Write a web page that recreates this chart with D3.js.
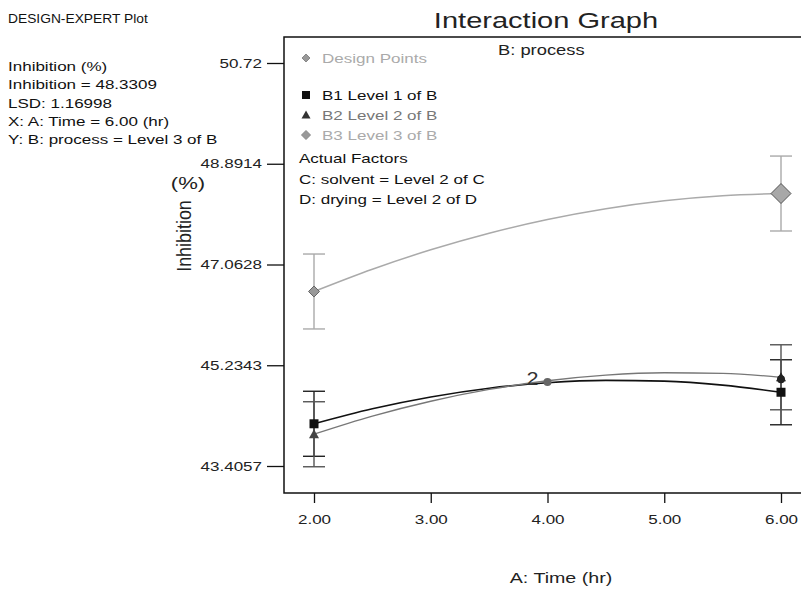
<!DOCTYPE html>
<html><head><meta charset="utf-8">
<script src="https://cdn.jsdelivr.net/npm/d3@7"></script>
<style>body{margin:0;background:#fff}svg{font-family:"Liberation Sans",Arial,sans-serif}</style>
</head><body><svg id="c" width="801" height="591"></svg>
<script>
const timeVals = [2, 2.5, 3, 3.5, 4, 4.5, 5, 5.5, 6];
const b1Vals = [44.172, 44.445, 44.659, 44.817, 44.917, 44.960, 44.946, 44.873, 44.744];
const b2Vals = [43.982, 44.310, 44.581, 44.795, 44.953, 45.054, 45.098, 45.086, 45.016];
const b3Vals = [46.573, 46.977, 47.330, 47.631, 47.880, 48.076, 48.220, 48.312, 48.351];
const errHalf = [0.59, 0.59, 0.68];
const yTicks = [43.4057, 45.2343, 47.0628, 48.8914, 50.72];
const yTickLabels = ["43.4057", "45.2343", "47.0628", "48.8914", "50.72"];
const xTicks = [2, 3, 4, 5, 6];
const designPoint = {t: 4, v: 44.93, label: "2"};
const infoLines = ["Inhibition (%)", "Inhibition = 48.3309", "LSD: 1.16998", "X: A: Time = 6.00 (hr)", "Y: B: process = Level 3 of B"];
const legendItems = ["B1 Level 1 of B", "B2 Level 2 of B", "B3 Level 3 of B"];
const factorLines = ["Actual Factors", "C: solvent = Level 2 of C", "D: drying = Level 2 of D"];

const svg = d3.select("#c");
const L = 284, T = 37, B = 493, R = 803;
const SX = 1.31;
const x = d3.scaleLinear().domain([2, 6]).range([314, 781]);
const y = d3.scaleLinear().domain([43.4057, 50.72]).range([466, 63]);

function txt(xx, yy, s, size, fill, sx, anchor) {
  return svg.append("text").attr("transform", `translate(${xx},${yy}) scale(${sx || SX},1)`)
    .attr("font-size", size).attr("text-anchor", anchor || "start").attr("fill", fill || "#111").text(s);
}

// left info
txt(8, 23, "DESIGN-EXPERT Plot", 12, "#111", 1.15);
infoLines.forEach((s, i) => txt(8, 71 + i * 18.3, s, 13, "#111"));

// title
txt(546, 28, "Interaction Graph", 22, "#222", 1.32, "middle");

// frame
svg.append("path").attr("d", `M${R},${T}H${L}V${B}H${R}`).attr("fill", "none").attr("stroke", "#111").attr("stroke-width", 1.5);

// y axis
const ya = svg.append("g").attr("transform", `translate(${L},0)`)
  .call(d3.axisLeft(y).tickValues(yTicks).tickFormat((d, i) => yTickLabels[i]).tickSize(17).tickPadding(5));
ya.select(".domain").remove();
ya.selectAll("line").attr("stroke", "#111").attr("stroke-width", 1.3);
ya.selectAll("text").attr("font-size", 13).attr("fill", "#222").attr("font-family", "Liberation Sans, Arial, sans-serif")
  .attr("x", -22 / SX).attr("transform", `scale(${SX},1)`);

// x axis
const xa = svg.append("g").attr("transform", `translate(0,${B})`)
  .call(d3.axisBottom(x).tickValues(xTicks).tickFormat(d3.format(".2f")).tickSize(10).tickPadding(12));
xa.select(".domain").remove();
xa.selectAll("line").attr("stroke", "#111").attr("stroke-width", 1.3);
xa.selectAll("text").attr("font-size", 13).attr("fill", "#222").attr("font-family", "Liberation Sans, Arial, sans-serif")
  .attr("transform", `scale(${SX},1)`);

// axis titles
txt(561, 583, "A: Time (hr)", 15, "#222", SX, "middle");
svg.append("text").attr("transform", "translate(191,236) rotate(-90) scale(1.12,1.25)").attr("text-anchor", "middle")
  .attr("font-size", 16).attr("fill", "#222").text("Inhibition");
txt(188, 189, "(%)", 17, "#222", 1.3, "middle");

// series
const series = [
  {vals: b1Vals, color: "#111", bar: "#222", w: 1.6},
  {vals: b2Vals, color: "#777", bar: "#555", w: 1.3},
  {vals: b3Vals, color: "#aaa", bar: "#aaa", w: 1.5}
];
const line = d3.line().x((d, i) => x(timeVals[i])).y(d => y(d)).curve(d3.curveMonotoneX);

// error bars
series.forEach((s, k) => {
  [0, s.vals.length - 1].forEach(i => {
    const cx = x(timeVals[i]), v = s.vals[i], h = errHalf[k];
    const g = svg.append("g").attr("stroke", s.bar).attr("stroke-width", 1.4);
    g.append("line").attr("x1", cx).attr("x2", cx).attr("y1", y(v + h)).attr("y2", y(v - h));
    [v + h, v - h].forEach(e => g.append("line").attr("x1", cx - 11).attr("x2", cx + 11).attr("y1", y(e)).attr("y2", y(e)));
  });
});

series.forEach(s => {
  svg.append("path").attr("d", line(s.vals)).attr("fill", "none").attr("stroke", s.color).attr("stroke-width", s.w);
});

// markers
function square(cx, cy, r, fill) { svg.append("rect").attr("x", cx - r).attr("y", cy - r).attr("width", 2 * r).attr("height", 2 * r).attr("fill", fill); }
function tri(cx, cy, r, fill) { svg.append("path").attr("d", `M${cx},${cy - r}L${cx + r},${cy + r * 0.8}L${cx - r},${cy + r * 0.8}Z`).attr("fill", fill); }
function diamond(cx, cy, r, fill, stroke) { svg.append("path").attr("d", `M${cx},${cy - r}L${cx + r},${cy}L${cx},${cy + r}L${cx - r},${cy}Z`).attr("fill", fill).attr("stroke", stroke).attr("stroke-width", 1); }

const n = timeVals.length - 1;
square(x(2), y(b1Vals[0]), 4.5, "#111");
square(x(6), y(b1Vals[n]), 4.5, "#111");
tri(x(2), y(b2Vals[0]), 5, "#444");
tri(x(6), y(b2Vals[n]), 5, "#222");
svg.append("circle").attr("cx", x(6)).attr("cy", y(b2Vals[n]) + 2).attr("r", 4).attr("fill", "#222");
diamond(x(2), y(b3Vals[0]), 5.5, "#999", "#666");
diamond(x(6), y(b3Vals[n]), 10, "#a8a8a8", "#555");

// design point
svg.append("circle").attr("cx", x(designPoint.t)).attr("cy", y(designPoint.v)).attr("r", 4).attr("fill", "#666");
txt(x(designPoint.t) - 21, y(designPoint.v) + 3, designPoint.label, 18, "#333", 1.2);

// legend
txt(498, 55, "B: process", 14, "#222");
diamond(306, 58, 4, "#999", "#888");
txt(322, 63, "Design Points", 13, "#aaa");
const legCol = ["#111", "#777", "#aaa"];
legendItems.forEach((s, i) => {
  const yy = 99 + i * 20;
  if (i === 0) square(306, yy - 4, 4, "#111");
  if (i === 1) tri(306, yy - 4, 4.5, "#333");
  if (i === 2) diamond(306, yy - 4, 4.5, "#999", "#888");
  txt(322, yy + 1, s, 13, legCol[i]);
});
factorLines.forEach((s, i) => txt(299, 163 + i * 20.5, s, 13, "#111"));
</script></body></html>
